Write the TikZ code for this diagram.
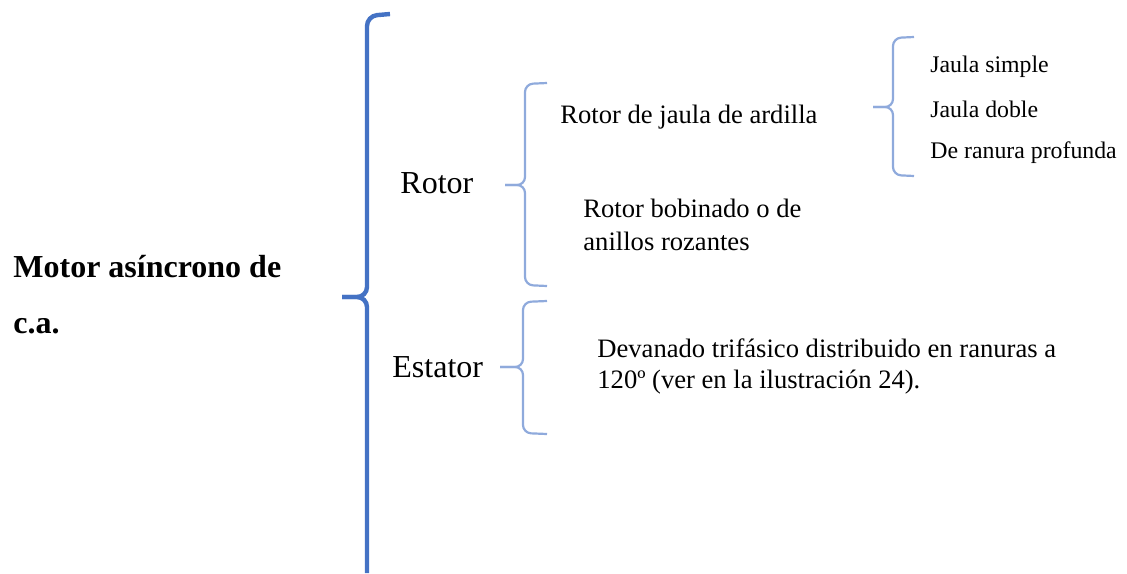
\documentclass[tikz,border=0pt]{standalone}
\usepackage{fontspec}
\setmainfont{Liberation Serif}
\definecolor{braceblue}{HTML}{4472C4}
\definecolor{bracelight}{HTML}{8FAADC}

\begin{document}
\begin{tikzpicture}[x=0.5pt,y=-0.5pt,
bigbrace/.style={draw=braceblue, line width=2.2pt, rounded corners=5pt},
smallbrace/.style={draw=bracelight, line width=1.1pt, rounded corners=4pt},
bigtext/.style={anchor=base west, inner sep=0pt, align=left, font=\fontsize{16}{28}\selectfont},
midtext/.style={anchor=base west, inner sep=0pt, align=left, font=\fontsize{13.3}{16.5}\selectfont},
smalltext/.style={anchor=base west, inner sep=0pt, font=\fontsize{11.9}{14}\selectfont}
]
    \useasboundingbox (0,0) rectangle (1127,573);

    % multi-line nodes sit on the baseline of their last line
    \node [bigtext,font=\fontsize{16}{28}\selectfont\bfseries] (motor) at (13,333) {Motor asíncrono de\\c.a.};

    \node [bigtext] (rotor) at (400,193) {Rotor};
    \node [bigtext] (estator) at (392,377) {Estator};

    \node [midtext] (ardilla) at (560,123) {Rotor de jaula de ardilla};
    \node [midtext] (bobinado) at (583,250) {Rotor bobinado o de\\anillos rozantes};
    \node [midtext,font=\fontsize{13.3}{15.5}\selectfont] (devanado) at (597,388) {Devanado trifásico distribuido en ranuras a\\120º (ver en la ilustración 24).};

    \node [smalltext] (simple) at (930,72) {Jaula simple};
    \node [smalltext] (doble) at (930,117) {Jaula doble};
    \node [smalltext] (profunda) at (930,158) {De ranura profunda};

    % main brace
    \draw [bigbrace] (390,14) -- (367,16) -- (367,297) -- (342,297);
    \draw [bigbrace] (342,297) -- (367,297) -- (367,573);

    % rotor
    \draw [smallbrace] (547,83) -- (525,84) -- (525,185) -- (505,185);
    \draw [smallbrace] (505,185) -- (525,185) -- (525,285) -- (547,286);

    % estator
    \draw [smallbrace] (547,301) -- (523,302) -- (523,367) -- (500,367);
    \draw [smallbrace] (500,367) -- (523,367) -- (523,433) -- (547,434);

    % jaula
    \draw [smallbrace] (914,37) -- (893,38) -- (893,107) -- (873,107);
    \draw [smallbrace] (873,107) -- (893,107) -- (893,175) -- (914,176);
\end{tikzpicture}
\end{document}
